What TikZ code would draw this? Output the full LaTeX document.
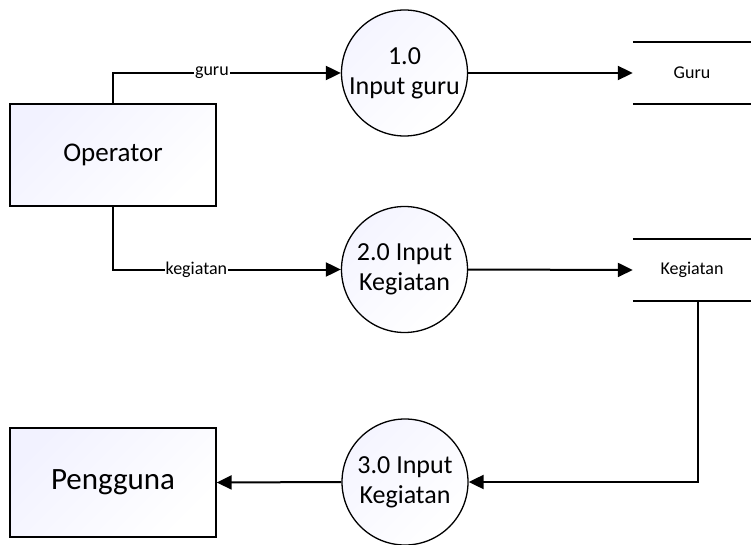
\documentclass[tikz,border=0pt]{standalone}
\usepackage{fontspec}
\setmainfont{Carlito}
\usetikzlibrary{arrows.meta}

\tikzset{
  entitas/.style={draw, line width=1.3pt, left color=blue!5, right color=white, shading angle=45, align=center},
  proses/.style={draw, circle, line width=1.3pt, minimum size=126pt, inner sep=0pt, align=center, left color=blue!4, right color=white, shading angle=45, font=\fontsize{26}{30}\selectfont},
  simpan/.style={minimum width=118pt, minimum height=62pt, inner sep=0pt, font=\fontsize{18}{21}\selectfont},
  alur/.style={line width=2pt, -{Triangle[length=15pt,width=14pt]}},
  ket/.style={fill=white, inner sep=1pt, font=\fontsize{18}{21}\selectfont}
}

\begin{document}
\begin{tikzpicture}[x=1pt, y=-1pt]
\useasboundingbox (0,0) rectangle (751,545);

\node[entitas, minimum width=206pt, minimum height=102pt, font=\fontsize{27}{31}\selectfont] (operator) at (113,155) {Operator};
\node[entitas, minimum width=206pt, minimum height=109pt, font=\fontsize{31}{35}\selectfont] (pengguna) at (113,482.5) {Pengguna};

\node[proses] (p1) at (404.5,73) {1.0\\Input guru};
\node[proses] (p2) at (404.5,269.5) {2.0 Input\\Kegiatan};
\node[proses] (p3) at (405,482) {3.0 Input\\Kegiatan};

\node[simpan] (dguru) at (692,73) {Guru};
\node[simpan] (dkeg) at (692,270) {Kegiatan};
\draw[line width=1.5pt] (dguru.north west) -- (dguru.north east);
\draw[line width=1.5pt] (dguru.south west) -- (dguru.south east);
\draw[line width=1.5pt] (dkeg.north west) -- (dkeg.north east);
\draw[line width=1.5pt] (dkeg.south west) -- (dkeg.south east);
\coordinate (kout) at (698,301);

\draw[alur] (operator.north) |- (p1.west) node[ket, pos=0.717] {guru};
\draw[alur] (operator.south) |- (p2.west) node[ket, pos=0.683] {kegiatan};
\draw[alur] (p1.east) -- (dguru.west);
\draw[alur] (p2.east) -- (dkeg.west);
\draw[alur] (kout) |- (p3.east);
\draw[alur] (p3.west) -- (pengguna.east);
\end{tikzpicture}
\end{document}
